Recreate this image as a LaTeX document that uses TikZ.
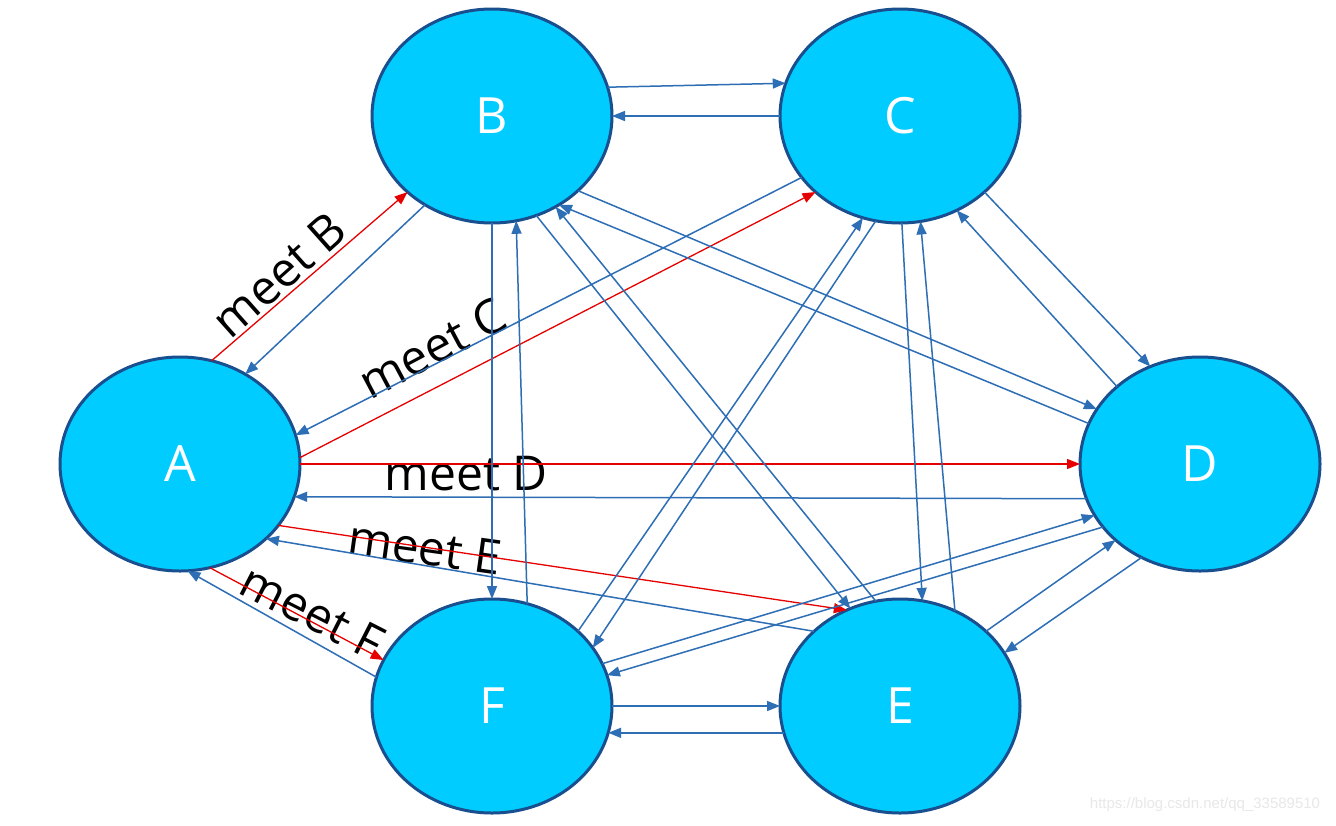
\documentclass[tikz,border=0pt]{standalone}
\usepackage{fontspec}
\setmainfont{Open Sans}
\newfontfamily\wmfont{Liberation Sans}
\usetikzlibrary{shapes.geometric,arrows.meta}
\definecolor{nodefill}{HTML}{00CCFF}
\definecolor{nodeline}{HTML}{1A4F8F}
\definecolor{edgeblue}{HTML}{2E6EB5}
\definecolor{edgered}{HTML}{E60000}
\begin{document}
\begin{tikzpicture}[x=1pt,y=-1pt,
  vnode/.style={ellipse, draw=nodeline, line width=3pt, fill=nodefill,
    minimum width=240pt, minimum height=214pt, inner sep=0pt, outer sep=0pt,
    text=white, font=\fontsize{50}{58}\selectfont},
  bl/.style={draw=edgeblue, line width=1.5pt, -{Triangle[length=13pt,width=10pt]}},
  rd/.style={draw=edgered, line width=1.3pt, -{Triangle[length=13pt,width=10pt]}},
  lbl/.style={font=\fontsize{48}{54}\selectfont, text=black, inner sep=0pt}]
\useasboundingbox (0,0) rectangle (1336,825);
\fill[white] (0,0) rectangle (1336,825);
% nodes
\node[vnode] (A) at (180,464) {A};
\node[vnode] (B) at (492,116) {B};
\node[vnode] (C) at (900,116) {C};
\node[vnode] (D) at (1200,464) {D};
\node[vnode] (E) at (900,706) {E};
\node[vnode] (F) at (492,706) {F};
% labels
\node[lbl, rotate=41.7] (lb) at (279,275) {meet B};
\node[lbl, rotate=28] (lc) at (432,348) {meet C};
\node[lbl] (ld) at (466,474) {meet D};
\node[lbl, rotate=-8] (le) at (425,548) {meet E};
\node[lbl, rotate=-27] (lf) at (312,612) {meet F};
% edges from A
\draw[rd] (A.73) -- (B.222);
\draw[bl] (B.233) -- (A.54.5);
\draw[rd] (A.3) -- (C.222);
\draw[bl] (C.212.5) -- (A.14);
\draw[rd] (A.0) -- (D.180);
\draw[bl] (D.197) -- (A.344);
\draw[rd] (A.328.5) -- (E.119.3);
\draw[bl] (E.139.4) -- (A.319.7);
\draw[rd] (A.286.8) -- (F.157.3);
\draw[bl] (F.166.6) -- (A.274);
% other edges
\draw[bl] (B.14.8) -- (C.164.6);
\draw[bl] (C.180) -- (B.0);
\draw[bl] (B.270) -- (F.90);
\draw[bl] (F.71.7) -- (B.283.2);
\draw[bl] (B.294.2) -- (E.117.4);
\draw[bl] (E.103.4) -- (B.305.4);
\draw[bl] (B.319.8) -- (D.152.4);
\draw[bl] (D.160.7) -- (B.307.3);
\draw[bl] (C.318.7) -- (D.117.7);
\draw[bl] (D.137.8) -- (C.301.7);
\draw[bl] (C.271) -- (E.78.9);
\draw[bl] (E.60.8) -- (C.281.6);
\draw[bl] (C.257.1) -- (F.30.7);
\draw[bl] (F.41.9) -- (C.250.1);
\draw[bl] (D.238) -- (E.27.2);
\draw[bl] (E.41.9) -- (D.222.7);
\draw[bl] (F.21.3) -- (D.206.1);
\draw[bl] (D.213.7) -- (F.15.6);
\draw[bl] (F.0) -- (E.180);
\draw[bl] (E.193.4) -- (F.347.6);
% watermark
\node[font=\wmfont\fontsize{15}{18}\selectfont, text=black!9, inner sep=0pt] (wm) at (1205,805) {https://blog.csdn.net/qq\_33589510};
\end{tikzpicture}
\end{document}
